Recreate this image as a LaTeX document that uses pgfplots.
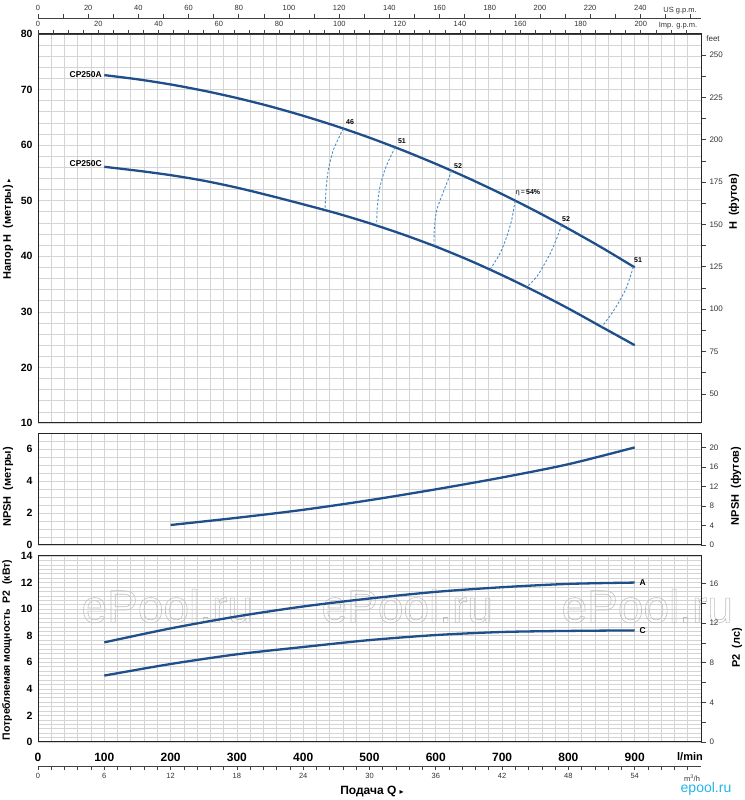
\documentclass[border=0pt]{standalone}
\usepackage{fontspec}
\setmainfont{Liberation Sans}
\newfontfamily\dejavu{DejaVu Sans}
\usepackage{pgfplots}
\pgfplotsset{compat=1.18}

\definecolor{curve}{HTML}{1F4F8A}
\definecolor{effl}{HTML}{4A8CC6}
\definecolor{gridc}{HTML}{D4D4D4}
\definecolor{logo}{HTML}{22B5E6}

\pgfplotsset{
  base/.style={
    scale only axis, width=663pt, xmin=0, xmax=1000, clip=false,
    axis line style={black!85, line width=1pt},
    grid=both, grid style={gridc, line width=0.7pt},
    xtick={0,100,...,900}, minor xtick={0,20,...,1000},
    major tick length=0pt, minor tick length=0pt,
    /pgf/number format/assume math mode=true,
    yticklabel style={font=\bfseries\fontsize{10.5}{12}\selectfont, xshift=-2pt},
  },
  rax/.style={
    scale only axis, width=663pt, xmin=0, xmax=1000,
    axis x line=none, axis y line*=right,
    tick align=outside, major tick length=5pt, minor tick length=5pt,
    tick style={black!75, line width=0.7pt},
    axis line style={black!85, line width=1pt},
    /pgf/number format/assume math mode=true,
    yticklabel style={font=\fontsize{8}{9}\selectfont, black!80},
  },
  aux/.style={
    scale only axis, width=663pt, axis y line=none, ymin=0, ymax=1,
    tick align=outside, major tick length=4pt, minor tick length=4pt,
    tick style={black!75, line width=0.7pt},
    axis line style={black!75, line width=0.9pt},
    /pgf/number format/assume math mode=true,
    xticklabel style={font=\fontsize{7.5}{8}\selectfont, black!80},
  },
  hq/.style={curve, line width=2.3pt, smooth},
  eff/.style={effl, line width=0.9pt, dash pattern=on 2.4pt off 1.8pt, smooth},
}
\tikzset{elab/.style={font=\bfseries\fontsize{7}{8}\selectfont}}

\begin{document}
\begin{tikzpicture}
\useasboundingbox (0,0) rectangle (744pt,800pt);

% ---------- H-Q ----------
\begin{axis}[base, at={(38pt,377pt)}, anchor=south west, height=389pt,
  ymin=10, ymax=80, ytick={10,20,...,80}, minor y tick num=4, xticklabels={}]
\addplot[hq] table {
100 72.6
150 71.85
200 70.92
250 69.79
300 68.48
350 66.98
400 65.28
450 63.41
500 61.34
550 59.08
600 56.63
650 54.0
700 51.18
750 48.17
800 44.96
850 41.58
900 38.0
};
\addplot[hq] table {
100 56.1
150 55.4
200 54.6
250 53.6
300 52.35
350 50.9
400 49.35
450 47.75
500 45.95
550 43.95
600 41.75
650 39.3
700 36.6
750 33.7
800 30.6
850 27.3
900 24.0
};
% efficiency lines
\addplot[eff] coordinates {(460.5,63.0) (445.4,59.1) (437.9,55.5) (434.4,51.9) (432.9,48.3)};
\addplot[eff] coordinates {(538.5,59.6) (524.9,56.1) (515.8,52.5) (511.8,48.9) (510.8,45.6)};
\addplot[eff] coordinates {(624,55.4) (611.4,51.6) (601.4,48.3) (597.8,45.0) (597.3,41.9)};
\addplot[eff] coordinates {(719.5,50.0) (714.4,46.5) (706.9,43.5) (696.8,40.5) (681.7,37.6)};
\addplot[eff] coordinates {(789.9,45.6) (777.2,41.7) (767.2,39.3) (752.1,36.3) (737.1,34.45)};
\addplot[eff] coordinates {(898,38.1) (888,34.5) (877.8,32.1) (865.3,29.7) (850.2,27.3)};
\node[elab] at (axis cs:470.6,64.2) {46};
\node[elab] at (axis cs:549,60.7) {51};
\node[elab] at (axis cs:633.5,56.2) {52};
\node[elab] at (axis cs:739,51.4) {{\mdseries η\,=\,}54\%};
\node[elab] at (axis cs:796.4,46.7) {52};
\node[elab] at (axis cs:905,39.3) {51};
\node[anchor=east, font=\bfseries\fontsize{8.5}{9}\selectfont, inner sep=1pt] at (axis cs:98,72.7) {CP250A};
\node[anchor=east, font=\bfseries\fontsize{8.5}{9}\selectfont, inner sep=1pt] at (axis cs:98,56.7) {CP250C};
\end{axis}
\begin{axis}[rax, at={(38pt,377pt)}, anchor=south west, height=389pt,
  ymin=32.808, ymax=262.467, ytick={50,75,...,250}, minor y tick num=1]
\end{axis}
\begin{axis}[aux, at={(38pt,377pt)}, anchor=south west, height=389pt,
  axis x line*=top, xmin=0, xmax=219.97, xtick={0,20,...,200}, minor xtick={0,5,...,215}]
\end{axis}
\begin{axis}[aux, at={(38pt,781pt)}, anchor=south west, height=1pt,
  axis x line*=top, xmin=0, xmax=264.17, xtick={0,20,...,240}, minor xtick={0,10,...,260}]
\end{axis}

% ---------- NPSH ----------
\begin{axis}[base, at={(38pt,255pt)}, anchor=south west, height=112pt,
  ymin=0, ymax=7, ytick={0,2,4,6}, minor ytick={0,0.5,...,7}, xticklabels={}]
\addplot[hq] table {
200 1.25
300 1.7
400 2.2
500 2.8
600 3.48
700 4.22
800 5.05
900 6.1
};
\end{axis}
\begin{axis}[rax, at={(38pt,255pt)}, anchor=south west, height=112pt,
  ymin=0, ymax=22.966, ytick={0,4,...,20}]
\end{axis}

% ---------- P2 ----------
\begin{axis}[base, at={(38pt,58pt)}, anchor=south west, height=186pt,
  ymin=0, ymax=14, ytick={0,2,...,14}, minor y tick num=5,
  xticklabel style={font=\bfseries\fontsize{12}{12}\selectfont, yshift=-8pt}]
\pgfplotsinvokeforeach{195,557,919}{
  \node[anchor=base, text=black!25, font=\fontsize{46}{46}\selectfont]
    at (axis cs:#1,9.0)
    {\special{pdf:literal direct 1 Tr 0.6 w}ePool.ru\special{pdf:literal direct 0 Tr}};
}
\addplot[hq] table {
100 7.5
200 8.55
300 9.45
400 10.2
500 10.8
600 11.3
700 11.65
800 11.9
900 12.0
};
\addplot[hq] table {
100 5.0
200 5.87
300 6.6
400 7.15
500 7.67
600 8.05
700 8.28
800 8.36
900 8.4
};
\node[anchor=west, font=\bfseries\fontsize{8.5}{9}\selectfont] at (axis cs:902,12.0) {A};
\node[anchor=west, font=\bfseries\fontsize{8.5}{9}\selectfont] at (axis cs:902,8.4) {C};
\end{axis}
\begin{axis}[rax, at={(38pt,58pt)}, anchor=south west, height=186pt,
  ymin=0, ymax=18.774, ytick={0,4,...,16}, minor y tick num=1]
\end{axis}
\begin{axis}[aux, at={(38pt,34pt)}, anchor=south west, height=1pt,
  axis x line*=bottom, xmin=0, xmax=60, xtick={0,6,...,54}, minor xtick={0,1.2,...,58.8}]
\end{axis}

% ---------- labels ----------
\node[rotate=90, font=\bfseries\fontsize{11}{12}\selectfont] at (8pt,571pt) {Напор H\ \ (метры) {\dejavu\fontsize{7}{8}\selectfont ▸}};
\node[rotate=90, font=\bfseries\fontsize{11}{12}\selectfont] at (8pt,313pt) {NPSH\ \ (метры)};
\node[rotate=90, font=\bfseries\fontsize{10.5}{12}\selectfont] at (7pt,150pt) {Потребляемая мощность\ \ P2\ \ (кВт)};
\node[rotate=90, font=\bfseries\fontsize{11}{12}\selectfont] at (734pt,598pt) {H\ \ (футов)};
\node[rotate=90, font=\bfseries\fontsize{11}{12}\selectfont] at (736pt,314pt) {NPSH\ \ (футов)};
\node[rotate=90, font=\bfseries\fontsize{11}{12}\selectfont] at (737pt,152pt) {P2\ \ (лс)};
\node[font=\fontsize{8}{9}\selectfont, black!80] at (713pt,761pt) {feet};
\node[font=\fontsize{7.5}{8}\selectfont, black!80] at (680pt,789pt) {US g.p.m.};
\node[font=\fontsize{7.5}{8}\selectfont, black!80] at (678pt,774pt) {Imp. g.p.m.};
\node[font=\bfseries\fontsize{11}{12}\selectfont] at (690pt,43pt) {l/min};
\node[font=\fontsize{7.5}{8}\selectfont, black!80] at (692pt,22pt) {m\textsuperscript{3}/h};
\node[font=\bfseries\fontsize{12}{13}\selectfont] at (372pt,8pt) {Подача Q {\dejavu\fontsize{8}{9}\selectfont ▸}};
\node[font=\fontsize{14}{14}\selectfont, text=logo] at (706pt,11pt) {epool.ru};
\end{tikzpicture}
\end{document}
